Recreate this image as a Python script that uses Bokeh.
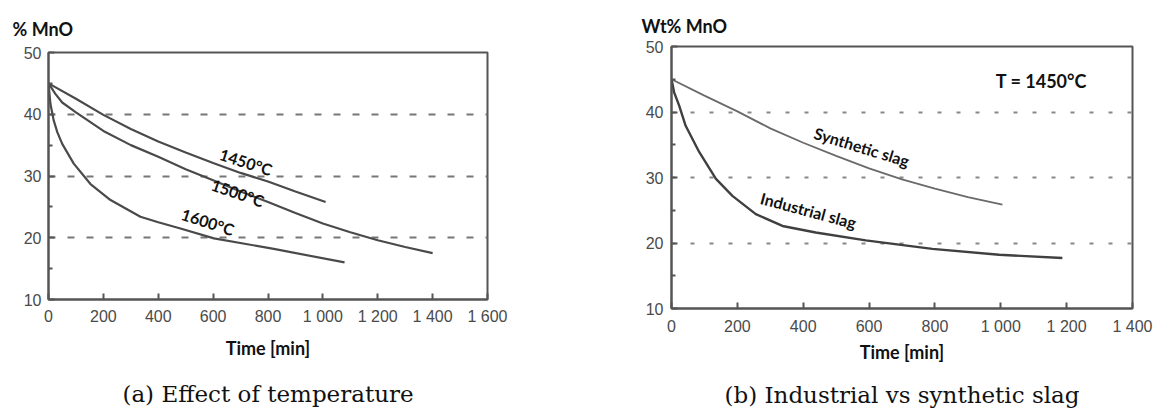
from bokeh.plotting import figure
from bokeh.models import Range1d, FixedTicker, Label, Title
from bokeh.layouts import row
from bokeh.embed import file_html
from bokeh.resources import INLINE

# ---- data (a) effect of temperature ----
t_1450 = [0, 100, 200, 300, 400, 500, 600, 700, 800, 900, 1010]
mno_1450 = [45, 42.5, 39.9, 37.6, 35.6, 33.8, 32.1, 30.5, 29.1, 27.5, 25.8]
t_1500 = [0, 25, 50, 100, 200, 300, 400, 500, 600, 700, 800, 900, 1000, 1100, 1200, 1300, 1400]
mno_1500 = [45, 43.3, 41.9, 40.3, 37.3, 35.0, 33.1, 31.1, 29.3, 27.5, 25.8, 24.0, 22.3, 20.9, 19.6, 18.5, 17.5]
t_1600 = [0, 7, 19, 32, 50, 92, 153, 226, 335, 400, 481, 603, 821, 1079]
mno_1600 = [45, 41.7, 39.0, 37.1, 35.2, 32.0, 28.7, 26.1, 23.4, 22.5, 21.5, 19.9, 18.2, 16.0]

# ---- data (b) industrial vs synthetic slag ----
t_syn = [0, 100, 200, 300, 400, 500, 600, 700, 800, 900, 1005]
mno_syn = [45, 42.5, 40.1, 37.5, 35.3, 33.3, 31.4, 29.7, 28.3, 27.0, 25.85]
t_ind = [0, 8, 23, 43, 84, 135, 185, 256, 337, 438, 590, 792, 995, 1187]
mno_ind = [45, 43.0, 41.0, 37.9, 33.9, 29.8, 27.2, 24.4, 22.6, 21.6, 20.4, 19.1, 18.2, 17.7]

y_ticks = [10, 20, 30, 40, 50]
y_minor = [15, 25, 35, 45]
grid_levels = [20, 30, 40]
x_ticks_a = [0, 200, 400, 600, 800, 1000, 1200, 1400, 1600]
x_ticks_b = [0, 200, 400, 600, 800, 1000, 1200, 1400]
x_labels = {1000: "1 000", 1200: "1 200", 1400: "1 400", 1600: "1 600"}

AX = "#555555"
CURVE = "#4a4a4a"


def base_fig(width, height, bl, bt, fw, fh, xmax, xticks, lab_standoff_x, lab_standoff_y,
             xlabel_standoff, ylabel, ylabel_offset, ylabel_standoff):
    p = figure(width=width, height=height, frame_width=fw, frame_height=fh,
               min_border_left=bl, min_border_top=bt,
               min_border_right=width - bl - fw, min_border_bottom=height - bt - fh,
               x_range=Range1d(0, xmax), y_range=Range1d(10, 50),
               output_backend="svg", toolbar_location=None)
    p.background_fill_color = "white"
    p.border_fill_color = "white"
    p.outline_line_color = AX
    p.outline_line_width = 2
    p.outline_line_alpha = 1
    for ax in (p.xaxis[0], p.yaxis[0]):
        ax.axis_line_color = AX
        ax.axis_line_width = 2
        ax.major_tick_line_color = AX
        ax.major_tick_line_width = 2
        ax.major_tick_in = 6
        ax.major_tick_out = 0
        ax.major_label_text_font = "Liberation Sans"
        ax.major_label_text_font_size = "16px"
        ax.major_label_text_color = "#4a4a4a"
    p.xaxis.ticker = FixedTicker(ticks=xticks)
    p.xaxis.major_label_overrides = x_labels
    p.xaxis.minor_tick_line_color = None
    p.xaxis.major_label_standoff = lab_standoff_x
    p.xaxis.axis_label = "Time [min]"
    p.xaxis.axis_label_text_font = "Lato"
    p.xaxis.axis_label_text_font_style = "bold"
    p.xaxis.axis_label_text_font_size = "18px"
    p.xaxis.axis_label_text_color = "#111111"
    p.xaxis.axis_label_standoff = xlabel_standoff
    p.yaxis.ticker = FixedTicker(ticks=y_ticks, minor_ticks=y_minor)
    p.yaxis.minor_tick_line_color = AX
    p.yaxis.minor_tick_line_width = 2
    p.yaxis.minor_tick_in = 4
    p.yaxis.minor_tick_out = 0
    p.yaxis.major_label_standoff = lab_standoff_y
    p.xgrid.visible = False
    p.ygrid.ticker = FixedTicker(ticks=grid_levels)
    p.ygrid.grid_line_color = "#777777"
    p.ygrid.grid_line_width = 2
    # y-quantity label placed above the frame, at its top-left
    p.title.text = ylabel
    p.title.align = "left"
    p.title.offset = ylabel_offset
    p.title.standoff = ylabel_standoff
    p.title.text_font = "Lato"
    p.title.text_font_style = "bold"
    p.title.text_font_size = "18px"
    p.title.text_color = "#111111"
    return p


def caption(p, text, standoff):
    p.add_layout(Title(text=text, align="center", text_font="DejaVu Serif",
                       text_font_style="normal", text_font_size="23px",
                       text_color="#111111", standoff=standoff), "below")


def data_label(p, x, y, text, angle, size):
    p.add_layout(Label(x=x, y=y, text=text, angle=angle, angle_units="deg",
                       text_font="Lato", text_font_style="bold", text_font_size=size,
                       text_align="center", text_baseline="middle", text_color="#111111"))


# ---------- panel (a) ----------
pa = base_fig(600, 419, 48, 52, 439, 247, 1600, x_ticks_a, 8, 7, 9, "% MnO", -36, 26)
pa.ygrid.grid_line_dash = "7 12"
pa.line(t_1450, mno_1450, line_color=CURVE, line_width=2.2)
pa.line(t_1500, mno_1500, line_color=CURVE, line_width=2.2)
pa.line(t_1600, mno_1600, line_color=CURVE, line_width=2.2)
data_label(pa, 720, 32.3, "1450°C", -18, "16px")
data_label(pa, 690, 27.3, "1500°C", -19, "16px")
data_label(pa, 581, 22.6, "1600°C", -18, "16px")
caption(pa, "(a) Effect of temperature", 34)

# ---------- panel (b) ----------
pb = base_fig(558, 425, 71, 52, 461, 262, 1400, x_ticks_b, 9, 8, 3, "Wt% MnO", -30, 19)
pb.margin = (-6, 0, 0, 0)
pb.ygrid.grid_line_dash = "4 15"
pb.ygrid.grid_line_color = "#888888"
pb.line(t_syn, mno_syn, line_color="#6a6a6a", line_width=1.8)
pb.line(t_ind, mno_ind, line_color="#404040", line_width=2.4)
data_label(pb, 578, 34.7, "Synthetic slag", -17, "16px")
data_label(pb, 416, 25.0, "Industrial slag", -15, "16px")
pb.add_layout(Label(x=985, y=44.8, text="T = 1450°C", text_font="Lato", text_font_style="bold",
                    text_font_size="18px", text_baseline="middle", text_color="#111111"))
caption(pb, "(b) Industrial vs synthetic slag", 29)

layout = row(pa, pb)
open("out.html", "w").write(file_html(layout, INLINE))
